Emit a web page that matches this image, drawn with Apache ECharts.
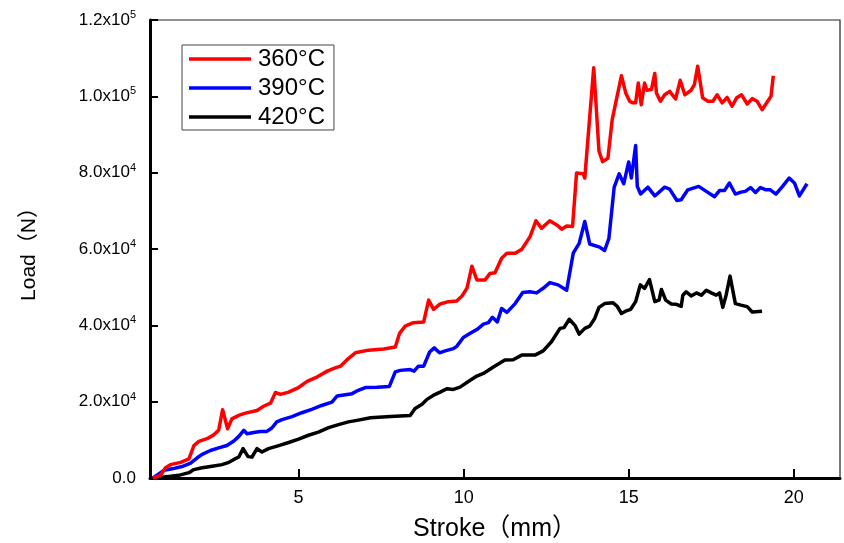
<!DOCTYPE html>
<html>
<head>
<meta charset="utf-8">
<script src="https://cdn.jsdelivr.net/npm/echarts@6/dist/echarts.min.js"></script>
<style>html,body{margin:0;padding:0;background:#fff}#c{width:844px;height:543px}</style>
</head>
<body>
<div id="c"></div>
<script>
// ---- data ----
const seriesNames = ['360°C', '390°C', '420°C'];
const xTicks = [5, 10, 15, 20];
const yTicks = [0, 20000, 40000, 60000, 80000, 100000, 120000];

const stroke360 = [0.59,0.82,0.97,1.12,1.43,1.68,1.83,1.98,2.23,2.43,2.58,2.70,2.85,2.98,3.19,3.39,3.74,3.94,4.15,4.30,4.45,4.70,5.00,5.26,5.57,5.87,6.07,6.27,6.47,6.72,7.12,7.58,7.93,8.06,8.23,8.48,8.79,8.94,9.09,9.29,9.54,9.79,9.95,10.10,10.25,10.40,10.65,10.80,10.95,11.15,11.31,11.56,11.76,12.01,12.19,12.36,12.61,12.82,12.97,13.12,13.30,13.42,13.62,13.67,13.94,14.10,14.21,14.37,14.50,14.78,14.91,15.03,15.13,15.21,15.29,15.38,15.48,15.55,15.69,15.79,15.84,15.96,16.09,16.24,16.42,16.56,16.70,16.89,16.99,17.09,17.24,17.40,17.55,17.68,17.83,17.98,18.13,18.27,18.42,18.59,18.74,18.89,19.04,19.31,19.38];
const load360 = [0,700,2700,3500,4100,5000,8500,9600,10300,11300,12500,17900,12900,15500,16400,17000,17700,18800,19600,22400,21900,22500,23700,25300,26500,28000,28700,29300,31000,32800,33500,33800,34300,37900,39800,40700,40900,46600,44200,45600,46200,46400,47700,49700,55500,51900,51900,53600,53800,57600,58900,58900,59900,63200,67400,65400,67400,66300,65200,66000,65900,79900,79700,78600,107500,85600,82900,83800,93900,105400,100900,98700,98300,98300,103500,97800,103500,101600,101800,106000,100900,98700,100400,101300,99300,104200,100400,101600,103100,107900,99600,98700,98700,100400,98300,99700,97400,99600,100400,98000,99400,98700,96500,100000,105400];

const stroke390 = [0.59,0.92,1.17,1.47,1.73,1.93,2.08,2.33,2.58,2.83,3.04,3.19,3.34,3.44,3.69,3.84,4.04,4.19,4.34,4.50,4.80,5.10,5.40,5.70,6.01,6.17,6.47,6.62,6.77,7.02,7.38,7.75,7.93,8.08,8.38,8.50,8.63,8.79,8.97,9.11,9.27,9.44,9.69,9.79,9.99,10.20,10.40,10.60,10.75,10.87,11.02,11.15,11.31,11.56,11.79,12.01,12.21,12.41,12.61,12.86,13.12,13.32,13.50,13.67,13.82,14.12,14.27,14.40,14.56,14.71,14.85,15.00,15.08,15.21,15.26,15.36,15.58,15.79,16.09,16.24,16.46,16.59,16.79,17.12,17.35,17.60,17.75,17.90,18.05,18.23,18.40,18.53,18.69,18.84,18.99,19.16,19.29,19.46,19.66,19.86,20.02,20.17,20.40];
const load390 = [0,2000,2400,3000,3900,5300,6200,7200,7900,8500,9700,10900,12500,11600,12000,12200,12200,13100,14700,15300,16100,17100,18000,19000,19900,21500,21900,22100,22800,23700,23800,24000,27800,28200,28400,28000,29300,29300,33000,34100,32800,33300,33900,34500,36800,37900,38900,40300,40700,42100,40900,44400,43400,45700,48600,48800,48500,49700,51200,50600,49200,58900,61500,67200,61300,60500,59600,62800,76200,79700,77100,82800,78600,87100,76400,74400,76200,73900,76200,75700,72700,72900,75500,76400,75100,73700,75300,75300,77300,74400,74900,75100,76100,74800,76100,75500,75500,74400,76400,78600,77300,73900,77100];

const stroke420 = [0.59,1.07,1.37,1.68,1.83,2.08,2.38,2.68,2.89,3.07,3.19,3.32,3.47,3.59,3.74,3.89,4.09,4.40,4.70,5.00,5.30,5.60,5.91,6.21,6.51,6.77,7.18,7.78,8.38,8.53,8.74,8.89,9.09,9.29,9.49,9.69,9.89,10.20,10.40,10.60,10.90,11.25,11.50,11.76,12.16,12.41,12.66,12.92,13.04,13.20,13.37,13.50,13.67,13.82,13.97,14.10,14.27,14.53,14.65,14.78,14.93,15.06,15.21,15.35,15.48,15.63,15.79,15.92,15.99,16.12,16.29,16.44,16.59,16.64,16.74,16.89,17.05,17.20,17.35,17.50,17.65,17.75,17.85,17.95,18.07,18.23,18.40,18.59,18.74,19.04];
const load420 = [0,400,700,1400,2200,2700,3100,3500,4100,5000,5500,7700,5600,5500,7700,6800,7700,8500,9300,10200,11200,12000,13200,14000,14700,15100,15800,16100,16400,18200,19300,20600,21700,22500,23400,23200,23800,25600,26700,27400,29100,30900,31000,32200,32200,33300,35700,39200,39400,41600,40000,37700,39200,39800,41800,44700,45700,45900,45000,43100,43800,44200,46200,50600,49700,52000,46200,46600,49400,46600,45600,45500,45000,47900,48800,47700,48500,47900,49200,48500,47900,48500,44700,47900,52900,45700,45300,44900,43500,43700];

// ---- chart ----
const FONT = "'Liberation Sans', Arial, 'Noto Sans CJK SC', sans-serif";
const zip = (xs, ys) => xs.map((x, i) => [x, ys[i]]);
const colors = ['#ff0000', '#0000ff', '#000000'];
const datasets = [zip(stroke360, load360), zip(stroke390, load390), zip(stroke420, load420)];

function yFmt(v) {
  if (v === 0) return '{b|0.0}';
  const e = Math.floor(Math.log10(v) + 1e-9);
  const m = (v / Math.pow(10, e)).toFixed(1);
  return '{b|' + m + 'x10}{s|' + e + '}';
}

const chart = echarts.init(document.getElementById('c'), null, {renderer: 'canvas'});
chart.setOption({
  animation: false,
  backgroundColor: '#ffffff',
  grid: {left: 150, right: 4, top: 20, bottom: 65, containLabel: false, outerBoundsMode: 'none', show: true, borderColor: '#222', borderWidth: 1.2, backgroundColor: 'transparent'},
  legend: {
    orient: 'vertical', left: 182, top: 45,
    data: seriesNames,
    icon: 'rect',
    itemWidth: 62, itemHeight: 3.5, itemGap: 5,
    padding: [2, 9, 1, 7],
    borderColor: '#444', borderWidth: 1, backgroundColor: '#fff',
    textStyle: {fontFamily: FONT, fontSize: 24, color: '#000', padding: [0, 0, 0, 2]}
  },
  xAxis: {
    type: 'value', min: 0.5, max: 21.4,
    name: 'Stroke（mm）', nameLocation: 'middle', nameGap: 39,
    nameTextStyle: {fontFamily: FONT, fontSize: 25, color: '#000'},
    axisLine: {show: true, onZero: false, lineStyle: {color: '#000', width: 3}},
    axisTick: {show: true, inside: true, length: 9, lineStyle: {color: '#000', width: 2}, customValues: xTicks},
    axisLabel: {fontFamily: FONT, fontSize: 18, color: '#000', margin: 11, customValues: xTicks},
    splitLine: {show: false}
  },
  yAxis: {
    type: 'value', min: 0, max: 120000, interval: 20000,
    name: 'Load（N）', nameLocation: 'middle', nameGap: 110,
    nameTextStyle: {fontFamily: FONT, fontSize: 21, color: '#000'},
    axisLine: {show: true, onZero: false, lineStyle: {color: '#000', width: 3}},
    axisTick: {show: true, inside: true, length: 8, lineStyle: {color: '#000', width: 2}},
    axisLabel: {
      fontFamily: FONT, fontSize: 17, color: '#000', margin: 14,
      formatter: yFmt,
      rich: {
        b: {fontFamily: FONT, fontSize: 17, color: '#000', lineHeight: 21},
        s: {fontFamily: FONT, fontSize: 11, color: '#000', verticalAlign: 'top', lineHeight: 12}
      }
    },
    splitLine: {show: false}
  },
  series: seriesNames.map((n, i) => ({
    name: n, type: 'line', data: datasets[i],
    symbol: 'none', showSymbol: false,
    lineStyle: {color: colors[i], width: 3.5, join: 'round'},
    itemStyle: {color: colors[i]},
    z: 3 - i
  }))
});
</script>
</body>
</html>
